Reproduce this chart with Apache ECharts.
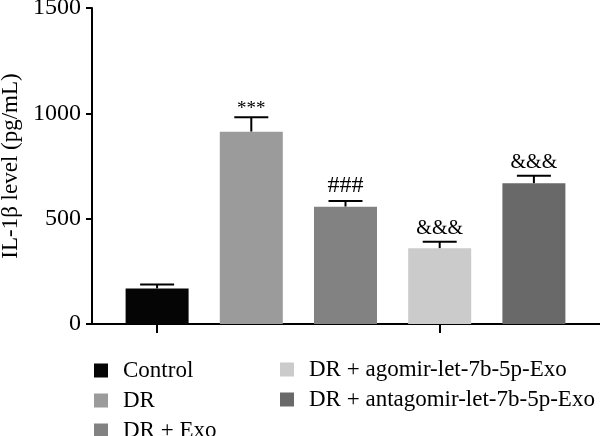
<!DOCTYPE html>
<html>
<head>
<meta charset="utf-8">
<script src="https://cdn.jsdelivr.net/npm/echarts@6/dist/echarts.min.js"></script>
<style>
  html, body { margin: 0; padding: 0; background: #fff; }
  #chart { width: 600px; height: 436px; }
</style>
</head>
<body>
<div id="chart"></div>
<script>
// groups, means, upper error (mean + SD) and significance marks
const groups = ['Control', 'DR', 'DR + Exo', 'DR + agomir-let-7b-5p-Exo', 'DR + antagomir-let-7b-5p-Exo'];
const means = [169, 913, 557, 359, 668];
const upper = [188, 981, 584, 391, 704];
const marks = ['', '***', '###', '&&&', '&&&'];
const colors = ['#050505', '#9b9b9b', '#828282', '#cbcbcb', '#696969'];
const yTicks = [0, 500, 1000, 1500];

const FONT = 'Liberation Serif';

const chart = echarts.init(document.getElementById('chart'));

// one series per group so the legend can list them
const barSeries = groups.map((g, i) => ({
  name: g,
  type: 'bar',
  xAxisIndex: 0,
  yAxisIndex: 0,
  barWidth: 63,
  barGap: '-100%',
  itemStyle: { color: colors[i] },
  data: means.map((v, j) => (j === i ? v : null))
}));

const markFont = { '***': 19, '###': 24, '&&&': 20 };

const errSeries = {
  type: 'custom',
  xAxisIndex: 0,
  yAxisIndex: 0,
  silent: true,
  data: means.map((m, i) => [i, m, upper[i]]),
  renderItem: function (params, api) {
    const i = api.value(0);
    const top = api.coord([i, api.value(1)]);
    const hi = api.coord([i, api.value(2)]);
    const half = 17;
    const style = { stroke: '#000', lineWidth: 2 };
    const children = [
      { type: 'line', shape: { x1: top[0], y1: top[1], x2: hi[0], y2: hi[1] }, style: style },
      { type: 'line', shape: { x1: hi[0] - half, y1: hi[1], x2: hi[0] + half, y2: hi[1] }, style: style }
    ];
    const m = marks[i];
    if (m) {
      children.push({
        type: 'text',
        style: {
          text: m,
          x: hi[0],
          y: m === '***' ? hi[1] + 1 : hi[1] - 3,
          align: 'center',
          verticalAlign: 'bottom',
          fill: '#000',
          font: markFont[m] + 'px "' + FONT + '"'
        }
      });
    }
    return { type: 'group', children: children };
  }
};

const legendBase = {
  orient: 'vertical',
  padding: 0,
  height: 100,
  icon: 'rect',
  itemWidth: 14,
  itemHeight: 14,
  itemGap: 7,
  textStyle: { fontFamily: FONT, fontSize: 23, lineHeight: 22, color: '#000', padding: [0, 0, 0, 10] }
};

chart.setOption({
  animation: false,
  textStyle: { fontFamily: FONT },
  grid: [
    { left: 110, right: 19, top: 8, bottom: 112, outerBoundsMode: 'none' },
    { left: 92, right: 0, top: 8, bottom: 112, outerBoundsMode: 'none' }
  ],
  legend: [
    Object.assign({}, legendBase, { data: groups.slice(0, 3), left: 94, top: 359 }),
    Object.assign({}, legendBase, { data: groups.slice(3), left: 280, top: 358 })
  ],
  xAxis: [
    {
      type: 'category',
      gridIndex: 0,
      data: groups,
      axisLine: { show: false },
      axisTick: { show: true, alignWithLabel: true, length: 9, lineStyle: { color: '#000', width: 2 } },
      axisLabel: { show: false }
    },
    {
      type: 'value',
      gridIndex: 1,
      min: 0,
      max: 1,
      axisLine: { show: true, lineStyle: { color: '#000', width: 2 } },
      axisTick: { show: false },
      axisLabel: { show: false },
      splitLine: { show: false }
    }
  ],
  yAxis: [
    {
      type: 'value',
      gridIndex: 0,
      min: yTicks[0],
      max: yTicks[yTicks.length - 1],
      interval: 500,
      offset: 18,
      name: 'IL-1β level (pg/mL)',
      nameLocation: 'middle',
      nameGap: 70,
      nameTextStyle: { fontFamily: FONT, fontSize: 23, color: '#000' },
      axisLine: { show: true, lineStyle: { color: '#000', width: 2 } },
      axisTick: { show: true, length: 6, lineStyle: { color: '#000', width: 2 } },
      axisLabel: { fontFamily: FONT, fontSize: 24, color: '#000', margin: 11, formatter: v => String(v) },
      splitLine: { show: false }
    },
    {
      type: 'value',
      gridIndex: 1,
      show: false
    }
  ],
  series: barSeries.concat([errSeries])
});
</script>
</body>
</html>
